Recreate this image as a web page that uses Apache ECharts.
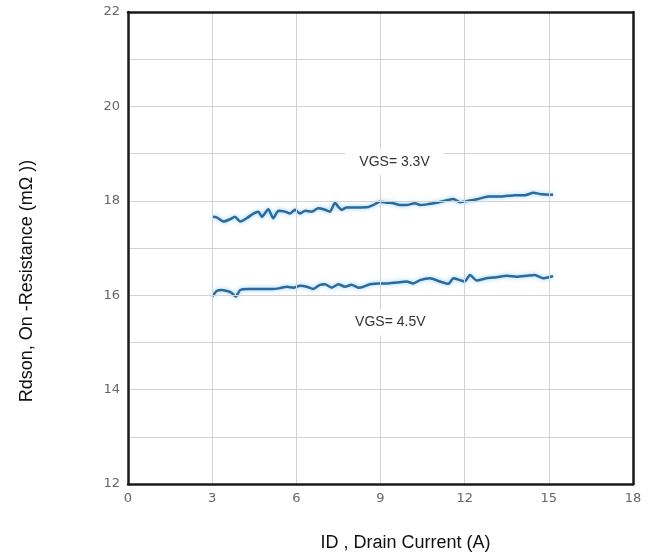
<!DOCTYPE html>
<html>
<head>
<meta charset="utf-8">
<script src="https://cdn.jsdelivr.net/npm/echarts@6/dist/echarts.min.js"></script>
<style>
  html, body { margin: 0; padding: 0; background: #fff; }
  #main { width: 651px; height: 560px; }
</style>
</head>
<body>
<div id="main"></div>
<script>
// drain current (A) and Rdson (mOhm)
var id33 = [3.0,3.16,3.4,3.64,3.81,4.0,4.23,4.47,4.65,4.77,5.0,5.18,5.36,5.6,5.77,5.95,6.13,6.31,6.55,6.78,7.02,7.2,7.38,7.5,7.62,7.79,8.15,8.57,8.74,8.98,9.22,9.46,9.69,9.93,10.23,10.41,10.7,11.0,11.3,11.6,11.83,12.13,12.49,12.84,13.32,13.79,14.15,14.45,14.74,15.04,15.15];
var rds33 = [17.66,17.65,17.56,17.61,17.66,17.56,17.63,17.73,17.77,17.66,17.82,17.63,17.79,17.77,17.73,17.81,17.73,17.79,17.77,17.84,17.81,17.77,17.96,17.87,17.81,17.86,17.86,17.87,17.91,17.98,17.96,17.95,17.91,17.91,17.95,17.91,17.93,17.96,18.0,18.04,17.97,18.0,18.04,18.09,18.09,18.12,18.12,18.17,18.14,18.13,18.13];

var id45 = [3.0,3.16,3.34,3.52,3.67,3.84,4.0,4.29,4.65,5.12,5.42,5.66,5.89,6.13,6.37,6.6,6.84,7.02,7.26,7.5,7.73,7.97,8.21,8.39,8.62,8.92,9.22,9.58,9.93,10.17,10.41,10.76,11.12,11.42,11.6,11.83,12.0,12.19,12.43,12.78,13.14,13.5,13.85,14.2,14.5,14.8,15.06,15.15];
var rds45 = [15.97,16.09,16.11,16.09,16.06,15.97,16.11,16.13,16.13,16.13,16.15,16.18,16.16,16.2,16.18,16.13,16.22,16.23,16.16,16.23,16.18,16.22,16.16,16.18,16.23,16.25,16.25,16.27,16.29,16.25,16.32,16.36,16.29,16.24,16.36,16.32,16.29,16.43,16.31,16.36,16.38,16.41,16.39,16.41,16.43,16.36,16.39,16.4];

var seriesNames = ['VGS= 3.3V', 'VGS= 4.5V'];
var labelPos = [[9.5, 18.82], [9.35, 15.42]];

function pairs(xs, ys) {
  var out = [];
  for (var i = 0; i < xs.length; i++) out.push([xs[i], ys[i]]);
  return out;
}

var chart = echarts.init(document.getElementById('main'));

function lineSeries(name, data, pos) {
  return {
    name: name,
    type: 'line',
    data: data,
    symbol: 'none',
    smooth: 0.2,
    lineStyle: {
      color: '#2b6a9c',
      width: 2.5,
      shadowColor: 'rgba(110,190,245,0.8)',
      shadowBlur: 4
    },
    markPoint: {
      symbolSize: 0,
      data: [{ coord: pos, value: name }],
      label: {
        show: true,
        position: 'inside',
        formatter: name,
        color: '#333',
        fontSize: 14,
        fontFamily: 'Liberation Sans',
        backgroundColor: '#fff',
        padding: [6, 14]
      }
    },
    z: 3
  };
}

var frame = { show: true, onZero: false, lineStyle: { color: '#1a1a1a', width: 2.5 } };

var option = {
  animation: false,
  grid: { left: 128, top: 12, right: 18, bottom: 76 },
  xAxis: [{
    type: 'value',
    min: 0, max: 18, interval: 3,
    name: 'ID , Drain Current (A)',
    nameLocation: 'middle',
    nameGap: 50,
    nameTextStyle: { fontSize: 18, color: '#111', fontFamily: 'Liberation Sans', padding: [0, 0, 0, 50] },
    axisLine: frame,
    axisTick: { show: false },
    axisLabel: { color: '#666', fontSize: 13, margin: 8, fontFamily: 'DejaVu Sans' },
    splitLine: { show: true, lineStyle: { color: '#d2d2d2', width: 1 } },
    z: 5
  }, {
    type: 'value', position: 'top',
    min: 0, max: 18,
    axisLine: frame,
    axisTick: { show: false },
    axisLabel: { show: false },
    splitLine: { show: false },
    z: 5
  }],
  yAxis: [{
    type: 'value',
    min: 12, max: 22, interval: 1,
    name: 'Rdson, On -Resistance (mΩ ))',
    nameLocation: 'middle',
    nameGap: 92,
    nameRotate: 90,
    nameTextStyle: { fontSize: 18, color: '#111', fontFamily: 'Liberation Sans', padding: [0, 66, 0, 0] },
    axisLine: frame,
    axisTick: { show: false },
    axisLabel: {
      color: '#666', fontSize: 13, margin: 8, fontFamily: 'DejaVu Sans',
      formatter: function (v) { return v % 2 === 0 ? String(v) : ''; }
    },
    splitLine: { show: true, lineStyle: { color: '#d2d2d2', width: 1 } },
    z: 5
  }, {
    type: 'value', position: 'right',
    min: 12, max: 22,
    axisLine: frame,
    axisTick: { show: false },
    axisLabel: { show: false },
    splitLine: { show: false },
    z: 5
  }],
  series: [
    lineSeries(seriesNames[0], pairs(id33, rds33), labelPos[0]),
    lineSeries(seriesNames[1], pairs(id45, rds45), labelPos[1])
  ]
};

chart.setOption(option);
</script>
</body>
</html>
